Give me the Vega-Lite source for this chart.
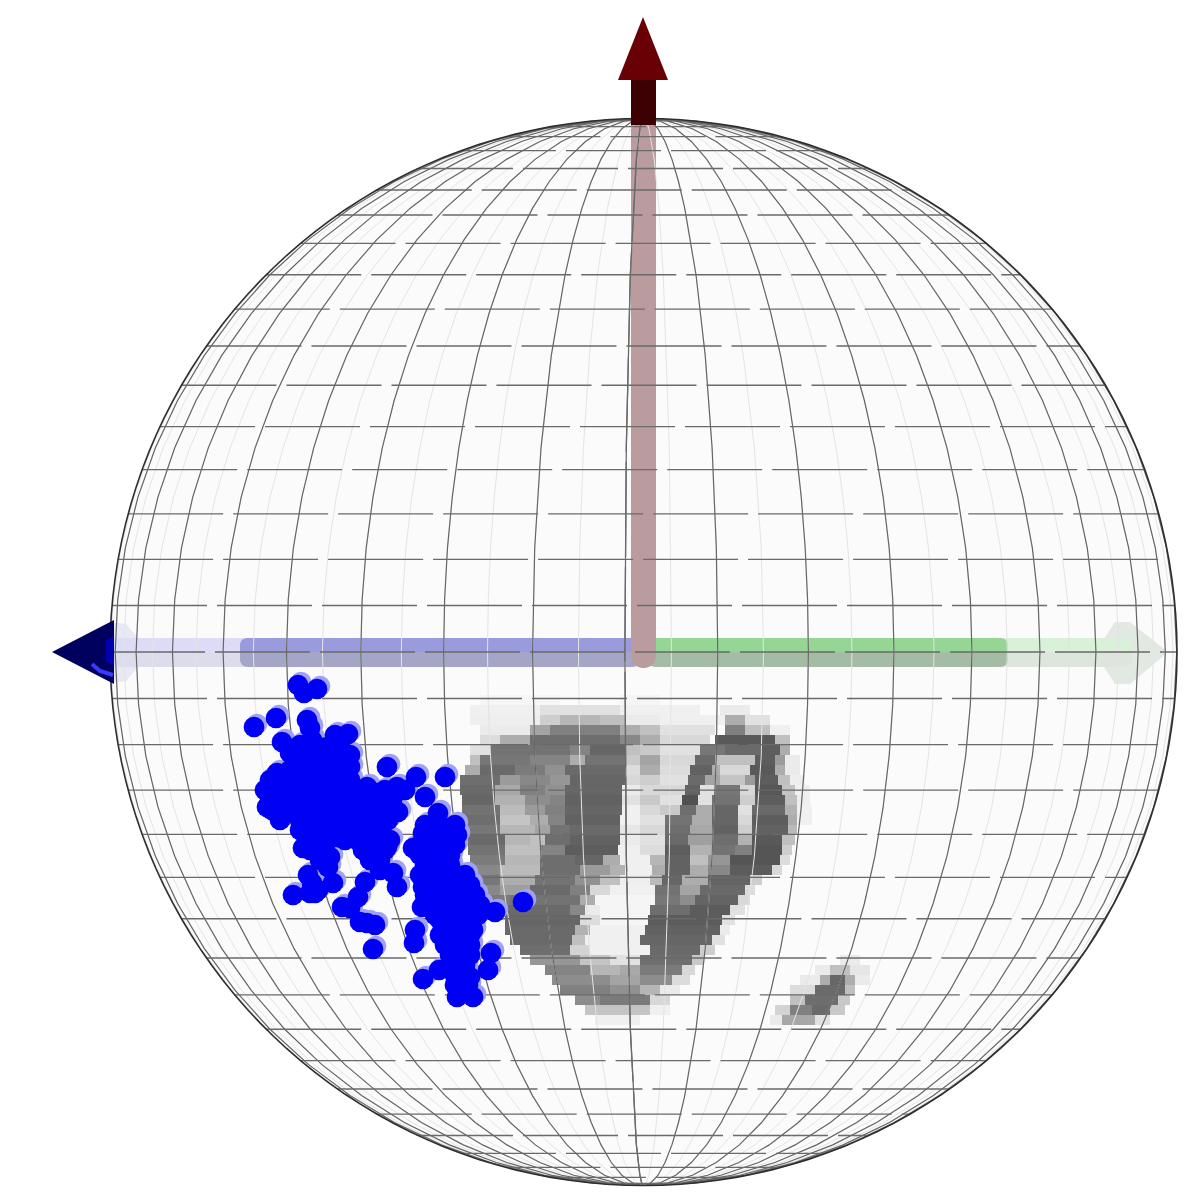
{"$schema":"https://vega.github.io/schema/vega-lite/v6.json","width":1190,"height":1197,"padding":0,"autosize":{"type":"none"},"background":"white","config":{"view":{"stroke":null},"axis":{"disable":true}},
"datasets":{
"pts":[{"x":298,"y":685},{"x":317,"y":689},{"x":304,"y":693},{"x":276,"y":718},{"x":254,"y":727},{"x":307,"y":720},{"x":310,"y":728},{"x":282,"y":742},{"x":290,"y":753},{"x":348,"y":734},{"x":335,"y":735},{"x":312,"y":740},{"x":327,"y":747},{"x":343,"y":757},{"x":350,"y":767},{"x":313,"y":760},{"x":330,"y":767},{"x":302,"y":760},{"x":277,"y":773},{"x":268,"y":793},{"x":267,"y":807},{"x":280,"y":820},{"x":287,"y":783},{"x":283,"y":803},{"x":307,"y":777},{"x":323,"y":787},{"x":340,"y":783},{"x":310,"y":800},{"x":327,"y":803},{"x":343,"y":803},{"x":307,"y":820},{"x":323,"y":820},{"x":343,"y":823},{"x":360,"y":800},{"x":367,"y":787},{"x":377,"y":793},{"x":387,"y":767},{"x":397,"y":787},{"x":383,"y":810},{"x":398,"y":812},{"x":363,"y":823},{"x":383,"y":837},{"x":387,"y":847},{"x":363,"y":850},{"x":357,"y":840},{"x":337,"y":837},{"x":303,"y":848},{"x":320,"y":847},{"x":330,"y":857},{"x":328,"y":867},{"x":333,"y":883},{"x":312,"y":883},{"x":315,"y":893},{"x":293,"y":895},{"x":342,"y":907},{"x":358,"y":897},{"x":365,"y":882},{"x":367,"y":923},{"x":373,"y":949},{"x":380,"y":870},{"x":397,"y":887},{"x":393,"y":873},{"x":416,"y":777},{"x":445,"y":777},{"x":425,"y":797},{"x":438,"y":813},{"x":452,"y":828},{"x":423,"y":833},{"x":437,"y":837},{"x":413,"y":848},{"x":430,"y":850},{"x":447,"y":847},{"x":427,"y":867},{"x":443,"y":863},{"x":423,"y":887},{"x":440,"y":883},{"x":467,"y":887},{"x":422,"y":907},{"x":443,"y":900},{"x":460,"y":900},{"x":472,"y":910},{"x":440,"y":920},{"x":457,"y":923},{"x":473,"y":930},{"x":495,"y":912},{"x":523,"y":902},{"x":415,"y":930},{"x":414,"y":943},{"x":450,"y":947},{"x":463,"y":947},{"x":460,"y":960},{"x":470,"y":977},{"x":439,"y":970},{"x":423,"y":979},{"x":491,"y":953},{"x":488,"y":970},{"x":460,"y":980},{"x":457,"y":997},{"x":473,"y":997},{"x":465,"y":993},
{"x":300,"y":745},{"x":315,"y":745},{"x":340,"y":745},{"x":295,"y":755},{"x":320,"y":755},{"x":335,"y":755},{"x":350,"y":755},{"x":290,"y":770},{"x":300,"y":770},{"x":315,"y":770},{"x":335,"y":770},{"x":345,"y":770},{"x":270,"y":780},{"x":280,"y":780},{"x":295,"y":780},{"x":315,"y":780},{"x":330,"y":780},{"x":350,"y":780},{"x":265,"y":790},{"x":280,"y":790},{"x":295,"y":790},{"x":310,"y":790},{"x":330,"y":790},{"x":345,"y":790},{"x":355,"y":790},{"x":385,"y":790},{"x":405,"y":790},{"x":275,"y":800},{"x":295,"y":800},{"x":320,"y":800},{"x":335,"y":800},{"x":350,"y":800},{"x":370,"y":800},{"x":392,"y":800},{"x":272,"y":810},{"x":295,"y":810},{"x":315,"y":810},{"x":335,"y":810},{"x":350,"y":810},{"x":370,"y":810},{"x":300,"y":820},{"x":330,"y":820},{"x":355,"y":820},{"x":375,"y":820},{"x":388,"y":820},{"x":300,"y":830},{"x":320,"y":830},{"x":335,"y":830},{"x":350,"y":830},{"x":370,"y":830},{"x":380,"y":830},{"x":310,"y":840},{"x":325,"y":840},{"x":345,"y":840},{"x":370,"y":840},{"x":390,"y":840},{"x":310,"y":850},{"x":325,"y":850},{"x":375,"y":850},{"x":385,"y":850},{"x":320,"y":860},{"x":370,"y":860},{"x":380,"y":860},{"x":308,"y":875},{"x":318,"y":890},{"x":310,"y":893},{"x":350,"y":908},{"x":375,"y":925},{"x":360,"y":922},
{"x":425,"y":825},{"x":440,"y":825},{"x":455,"y":825},{"x":430,"y":835},{"x":445,"y":835},{"x":457,"y":835},{"x":420,"y":845},{"x":440,"y":845},{"x":455,"y":845},{"x":420,"y":855},{"x":435,"y":855},{"x":450,"y":855},{"x":425,"y":865},{"x":435,"y":865},{"x":450,"y":865},{"x":420,"y":875},{"x":435,"y":875},{"x":450,"y":875},{"x":465,"y":875},{"x":430,"y":885},{"x":450,"y":885},{"x":470,"y":885},{"x":425,"y":895},{"x":435,"y":895},{"x":450,"y":895},{"x":465,"y":895},{"x":475,"y":895},{"x":430,"y":905},{"x":450,"y":905},{"x":465,"y":905},{"x":480,"y":905},{"x":435,"y":915},{"x":450,"y":915},{"x":465,"y":915},{"x":478,"y":915},{"x":445,"y":925},{"x":465,"y":925},{"x":440,"y":935},{"x":455,"y":935},{"x":470,"y":935},{"x":445,"y":945},{"x":455,"y":945},{"x":470,"y":945},{"x":450,"y":955},{"x":470,"y":955},{"x":450,"y":965},{"x":465,"y":965},{"x":455,"y":975},{"x":455,"y":985},{"x":468,"y":985}],
"upper":[{"x":112,"x2":250,"y":638,"y2":652,"part":"ext blue top"},{"x":1000,"x2":1132,"y":638,"y2":652,"part":"ext green top"},{"x":240,"x2":640,"y":638,"y2":652,"part":"blue top"},{"x":648,"x2":1008,"y":638,"y2":652,"part":"green top"}],
"lower":[{"x":112,"x2":250,"y":652,"y2":667,"part":"ext blue low"},{"x":1000,"x2":1132,"y":652,"y2":667,"part":"ext green low"},{"x":240,"x2":640,"y":652,"y2":667,"part":"blue low"},{"x":648,"x2":1008,"y":652,"y2":667,"part":"green low"}],
"density":[
{"x":480,"x2":560,"y":700,"v":246},{"x":620,"x2":660,"y":700,"v":245},
{"x":470,"x2":540,"y":710,"v":240},{"x":540,"x2":620,"y":710,"v":225},{"x":620,"x2":700,"y":710,"v":240},{"x":720,"x2":750,"y":710,"v":235},
{"x":470,"x2":540,"y":720,"v":238},{"x":540,"x2":560,"y":720,"v":205},{"x":560,"x2":600,"y":720,"v":180},{"x":600,"x2":625,"y":720,"v":190},{"x":625,"x2":660,"y":720,"v":235},{"x":660,"x2":725,"y":720,"v":240},{"x":725,"x2":745,"y":720,"v":170},{"x":745,"x2":770,"y":720,"v":225},
{"x":480,"x2":530,"y":730,"v":235},{"x":530,"x2":550,"y":730,"v":160},{"x":550,"x2":620,"y":730,"v":120},{"x":620,"x2":640,"y":730,"v":170},{"x":640,"x2":660,"y":730,"v":190},{"x":660,"x2":715,"y":730,"v":225},{"x":725,"x2":745,"y":730,"v":120},{"x":745,"x2":770,"y":730,"v":190},{"x":770,"x2":790,"y":730,"v":240},
{"x":480,"x2":500,"y":740,"v":220},{"x":500,"x2":530,"y":740,"v":170},{"x":530,"x2":620,"y":740,"v":100},{"x":620,"x2":640,"y":740,"v":130},{"x":640,"x2":660,"y":740,"v":170},{"x":660,"x2":710,"y":740,"v":215},{"x":715,"x2":775,"y":740,"v":75},{"x":775,"x2":790,"y":740,"v":190},
{"x":470,"x2":490,"y":750,"v":225},{"x":490,"x2":570,"y":750,"v":105},{"x":570,"x2":590,"y":750,"v":125},{"x":590,"x2":625,"y":750,"v":90},{"x":625,"x2":640,"y":750,"v":190},{"x":640,"x2":660,"y":750,"v":200},{"x":660,"x2":700,"y":750,"v":225},{"x":700,"x2":725,"y":750,"v":110},{"x":725,"x2":760,"y":750,"v":95},{"x":760,"x2":780,"y":750,"v":80},{"x":780,"x2":790,"y":750,"v":170},
{"x":470,"x2":480,"y":760,"v":190},{"x":480,"x2":530,"y":760,"v":110},{"x":530,"x2":570,"y":760,"v":125},{"x":570,"x2":585,"y":760,"v":170},{"x":585,"x2":625,"y":760,"v":105},{"x":625,"x2":640,"y":760,"v":200},{"x":640,"x2":660,"y":760,"v":160},{"x":660,"x2":695,"y":760,"v":215},{"x":695,"x2":715,"y":760,"v":95},{"x":715,"x2":755,"y":760,"v":190},{"x":755,"x2":775,"y":760,"v":80},{"x":775,"x2":785,"y":760,"v":150},{"x":785,"x2":800,"y":760,"v":235},
{"x":465,"x2":480,"y":770,"v":170},{"x":480,"x2":515,"y":770,"v":95},{"x":515,"x2":545,"y":770,"v":115},{"x":545,"x2":565,"y":770,"v":140},{"x":565,"x2":625,"y":770,"v":95},{"x":625,"x2":640,"y":770,"v":220},{"x":640,"x2":660,"y":770,"v":170},{"x":660,"x2":690,"y":770,"v":220},{"x":690,"x2":712,"y":770,"v":85},{"x":712,"x2":720,"y":770,"v":170},{"x":720,"x2":750,"y":770,"v":215},{"x":750,"x2":775,"y":770,"v":75},{"x":775,"x2":785,"y":770,"v":170},{"x":785,"x2":800,"y":770,"v":235},
{"x":460,"x2":500,"y":780,"v":100},{"x":500,"x2":520,"y":780,"v":150},{"x":520,"x2":550,"y":780,"v":130},{"x":550,"x2":570,"y":780,"v":145},{"x":570,"x2":625,"y":780,"v":90},{"x":625,"x2":640,"y":780,"v":215},{"x":640,"x2":660,"y":780,"v":205},{"x":660,"x2":688,"y":780,"v":225},{"x":688,"x2":705,"y":780,"v":95},{"x":705,"x2":720,"y":780,"v":160},{"x":720,"x2":745,"y":780,"v":195},{"x":745,"x2":755,"y":780,"v":150},{"x":755,"x2":778,"y":780,"v":80},{"x":778,"x2":790,"y":780,"v":190},{"x":790,"x2":805,"y":780,"v":238},
{"x":460,"x2":495,"y":790,"v":95},{"x":495,"x2":520,"y":790,"v":165},{"x":520,"x2":545,"y":790,"v":120},{"x":545,"x2":565,"y":790,"v":140},{"x":565,"x2":622,"y":790,"v":90},{"x":622,"x2":640,"y":790,"v":235},{"x":640,"x2":660,"y":790,"v":215},{"x":660,"x2":685,"y":790,"v":215},{"x":685,"x2":700,"y":790,"v":85},{"x":700,"x2":715,"y":790,"v":225},{"x":715,"x2":740,"y":790,"v":110},{"x":740,"x2":755,"y":790,"v":215},{"x":755,"x2":782,"y":790,"v":72},{"x":782,"x2":795,"y":790,"v":195},{"x":795,"x2":810,"y":790,"v":240},
{"x":462,"x2":495,"y":800,"v":90},{"x":495,"x2":525,"y":800,"v":175},{"x":525,"x2":550,"y":800,"v":135},{"x":550,"x2":565,"y":800,"v":125},{"x":565,"x2":622,"y":800,"v":85},{"x":622,"x2":640,"y":800,"v":225},{"x":640,"x2":660,"y":800,"v":200},{"x":660,"x2":682,"y":800,"v":225},{"x":682,"x2":698,"y":800,"v":65},{"x":698,"x2":712,"y":800,"v":225},{"x":712,"x2":740,"y":800,"v":105},{"x":740,"x2":755,"y":800,"v":205},{"x":755,"x2":785,"y":800,"v":80},{"x":785,"x2":797,"y":800,"v":190},{"x":797,"x2":810,"y":800,"v":238},
{"x":462,"x2":500,"y":810,"v":105},{"x":500,"x2":525,"y":810,"v":185},{"x":525,"x2":545,"y":810,"v":150},{"x":545,"x2":565,"y":810,"v":120},{"x":565,"x2":622,"y":810,"v":90},{"x":622,"x2":640,"y":810,"v":240},{"x":640,"x2":660,"y":810,"v":215},{"x":660,"x2":680,"y":810,"v":200},{"x":680,"x2":696,"y":810,"v":100},{"x":696,"x2":712,"y":810,"v":170},{"x":712,"x2":738,"y":810,"v":90},{"x":738,"x2":752,"y":810,"v":225},{"x":752,"x2":785,"y":810,"v":95},{"x":785,"x2":797,"y":810,"v":175},{"x":797,"x2":812,"y":810,"v":240},
{"x":465,"x2":500,"y":820,"v":100},{"x":500,"x2":530,"y":820,"v":195},{"x":530,"x2":548,"y":820,"v":170},{"x":548,"x2":565,"y":820,"v":125},{"x":565,"x2":620,"y":820,"v":85},{"x":620,"x2":640,"y":820,"v":240},{"x":640,"x2":665,"y":820,"v":225},{"x":665,"x2":692,"y":820,"v":105},{"x":692,"x2":712,"y":820,"v":170},{"x":712,"x2":738,"y":820,"v":90},{"x":738,"x2":752,"y":820,"v":215},{"x":752,"x2":788,"y":820,"v":80},{"x":788,"x2":797,"y":820,"v":170},{"x":797,"x2":812,"y":820,"v":240},
{"x":465,"x2":500,"y":830,"v":110},{"x":500,"x2":535,"y":830,"v":180},{"x":535,"x2":550,"y":830,"v":160},{"x":550,"x2":570,"y":830,"v":105},{"x":570,"x2":620,"y":830,"v":95},{"x":620,"x2":640,"y":830,"v":230},{"x":640,"x2":665,"y":830,"v":215},{"x":665,"x2":690,"y":830,"v":100},{"x":690,"x2":712,"y":830,"v":165},{"x":712,"x2":738,"y":830,"v":85},{"x":738,"x2":752,"y":830,"v":205},{"x":752,"x2":788,"y":830,"v":85},{"x":788,"x2":797,"y":830,"v":185},
{"x":468,"x2":505,"y":840,"v":95},{"x":505,"x2":530,"y":840,"v":180},{"x":530,"x2":545,"y":840,"v":190},{"x":545,"x2":570,"y":840,"v":100},{"x":570,"x2":620,"y":840,"v":85},{"x":620,"x2":640,"y":840,"v":235},{"x":640,"x2":665,"y":840,"v":225},{"x":665,"x2":688,"y":840,"v":95},{"x":688,"x2":712,"y":840,"v":155},{"x":712,"x2":738,"y":840,"v":100},{"x":738,"x2":752,"y":840,"v":175},{"x":752,"x2":782,"y":840,"v":75},{"x":782,"x2":795,"y":840,"v":190},
{"x":468,"x2":505,"y":850,"v":105},{"x":505,"x2":540,"y":850,"v":190},{"x":540,"x2":565,"y":850,"v":125},{"x":565,"x2":618,"y":850,"v":80},{"x":618,"x2":640,"y":850,"v":240},{"x":640,"x2":665,"y":850,"v":220},{"x":665,"x2":690,"y":850,"v":80},{"x":690,"x2":712,"y":850,"v":175},{"x":712,"x2":735,"y":850,"v":105},{"x":735,"x2":752,"y":850,"v":120},{"x":752,"x2":782,"y":850,"v":70},{"x":782,"x2":792,"y":850,"v":205},
{"x":470,"x2":505,"y":860,"v":115},{"x":505,"x2":540,"y":860,"v":180},{"x":540,"x2":575,"y":860,"v":100},{"x":575,"x2":603,"y":860,"v":90},{"x":603,"x2":620,"y":860,"v":170},{"x":620,"x2":650,"y":860,"v":240},{"x":650,"x2":665,"y":860,"v":180},{"x":665,"x2":690,"y":860,"v":85},{"x":690,"x2":708,"y":860,"v":190},{"x":708,"x2":730,"y":860,"v":145},{"x":730,"x2":780,"y":860,"v":70},{"x":780,"x2":790,"y":860,"v":220},
{"x":475,"x2":500,"y":870,"v":130},{"x":500,"x2":540,"y":870,"v":185},{"x":540,"x2":580,"y":870,"v":100},{"x":580,"x2":610,"y":870,"v":150},{"x":610,"x2":625,"y":870,"v":175},{"x":625,"x2":652,"y":870,"v":240},{"x":652,"x2":665,"y":870,"v":170},{"x":665,"x2":690,"y":870,"v":85},{"x":690,"x2":708,"y":870,"v":170},{"x":708,"x2":730,"y":870,"v":130},{"x":730,"x2":772,"y":870,"v":78},{"x":772,"x2":782,"y":870,"v":215},
{"x":478,"x2":500,"y":880,"v":110},{"x":500,"x2":535,"y":880,"v":170},{"x":535,"x2":575,"y":880,"v":105},{"x":575,"x2":600,"y":880,"v":140},{"x":600,"x2":620,"y":880,"v":190},{"x":620,"x2":650,"y":880,"v":238},{"x":650,"x2":662,"y":880,"v":185},{"x":662,"x2":682,"y":880,"v":90},{"x":682,"x2":708,"y":880,"v":170},{"x":708,"x2":750,"y":880,"v":88},{"x":750,"x2":762,"y":880,"v":205},
{"x":480,"x2":500,"y":890,"v":130},{"x":500,"x2":530,"y":890,"v":155},{"x":530,"x2":570,"y":890,"v":95},{"x":570,"x2":590,"y":890,"v":120},{"x":590,"x2":610,"y":890,"v":215},{"x":610,"x2":655,"y":890,"v":240},{"x":655,"x2":680,"y":890,"v":105},{"x":680,"x2":700,"y":890,"v":160},{"x":700,"x2":745,"y":890,"v":95},{"x":745,"x2":755,"y":890,"v":220},
{"x":490,"x2":510,"y":900,"v":115},{"x":510,"x2":580,"y":900,"v":105},{"x":580,"x2":595,"y":900,"v":170},{"x":595,"x2":655,"y":900,"v":245},{"x":655,"x2":680,"y":900,"v":110},{"x":680,"x2":695,"y":900,"v":135},{"x":695,"x2":738,"y":900,"v":88},{"x":738,"x2":750,"y":900,"v":215},
{"x":500,"x2":570,"y":910,"v":95},{"x":570,"x2":585,"y":910,"v":130},{"x":585,"x2":600,"y":910,"v":235},{"x":600,"x2":650,"y":910,"v":245},{"x":650,"x2":690,"y":910,"v":100},{"x":690,"x2":730,"y":910,"v":78},{"x":730,"x2":745,"y":910,"v":225},
{"x":505,"x2":580,"y":920,"v":90},{"x":580,"x2":600,"y":920,"v":220},{"x":600,"x2":648,"y":920,"v":245},{"x":648,"x2":722,"y":920,"v":78},{"x":722,"x2":735,"y":920,"v":225},
{"x":505,"x2":575,"y":930,"v":95},{"x":575,"x2":590,"y":930,"v":175},{"x":590,"x2":645,"y":930,"v":240},{"x":645,"x2":720,"y":930,"v":85},{"x":720,"x2":730,"y":930,"v":235},
{"x":510,"x2":572,"y":940,"v":95},{"x":572,"x2":585,"y":940,"v":190},{"x":585,"x2":640,"y":940,"v":240},{"x":640,"x2":712,"y":940,"v":90},{"x":712,"x2":725,"y":940,"v":225},
{"x":520,"x2":570,"y":950,"v":100},{"x":570,"x2":590,"y":950,"v":210},{"x":590,"x2":650,"y":950,"v":240},{"x":650,"x2":700,"y":950,"v":95},{"x":700,"x2":715,"y":950,"v":205},
{"x":530,"x2":580,"y":960,"v":145},{"x":580,"x2":610,"y":960,"v":195},{"x":610,"x2":640,"y":960,"v":225},{"x":640,"x2":692,"y":960,"v":100},{"x":692,"x2":704,"y":960,"v":200},{"x":840,"x2":860,"y":960,"v":235},
{"x":545,"x2":590,"y":970,"v":125},{"x":590,"x2":620,"y":970,"v":180},{"x":620,"x2":640,"y":970,"v":165},{"x":640,"x2":682,"y":970,"v":115},{"x":682,"x2":695,"y":970,"v":215},{"x":815,"x2":830,"y":970,"v":235},{"x":830,"x2":850,"y":970,"v":190},{"x":850,"x2":870,"y":970,"v":230},
{"x":552,"x2":610,"y":980,"v":135},{"x":610,"x2":640,"y":980,"v":160},{"x":640,"x2":672,"y":980,"v":135},{"x":672,"x2":690,"y":980,"v":220},{"x":800,"x2":820,"y":980,"v":235},{"x":820,"x2":830,"y":980,"v":170},{"x":830,"x2":845,"y":980,"v":90},{"x":845,"x2":855,"y":980,"v":170},{"x":855,"x2":870,"y":980,"v":235},
{"x":560,"x2":610,"y":990,"v":120},{"x":610,"x2":640,"y":990,"v":140},{"x":640,"x2":660,"y":990,"v":180},{"x":660,"x2":680,"y":990,"v":235},{"x":790,"x2":815,"y":990,"v":220},{"x":815,"x2":845,"y":990,"v":95},{"x":845,"x2":855,"y":990,"v":190},
{"x":575,"x2":600,"y":1000,"v":135},{"x":600,"x2":650,"y":1000,"v":115},{"x":650,"x2":670,"y":1000,"v":215},{"x":790,"x2":805,"y":1000,"v":190},{"x":805,"x2":838,"y":1000,"v":100},{"x":838,"x2":850,"y":1000,"v":200},
{"x":585,"x2":650,"y":1010,"v":195},{"x":650,"x2":670,"y":1010,"v":240},{"x":775,"x2":790,"y":1010,"v":210},{"x":790,"x2":812,"y":1010,"v":120},{"x":812,"x2":830,"y":1010,"v":95},{"x":830,"x2":845,"y":1010,"v":200},
{"x":595,"x2":640,"y":1020,"v":240},{"x":770,"x2":782,"y":1020,"v":235},{"x":782,"x2":815,"y":1020,"v":165},{"x":815,"x2":830,"y":1020,"v":225}
]},
"layer":[
{"data":{"sphere":true},"mark":{"type":"geoshape","fill":"#fbfbfb","stroke":null},"projection":{"type":"orthographic","scale":533.5,"translate":[643.5,652],"rotate":[-2,0,0]},"encoding":{}},
{"data":{"name":"density"},"mark":{"type":"rect","height":10},"encoding":{"x":{"field":"x","type":"quantitative","axis":null,"scale":{"domain":[0,1190],"nice":false,"zero":false}},"x2":{"field":"x2"},"y":{"field":"y","type":"quantitative","axis":null,"scale":{"domain":[1197,0],"nice":false,"zero":false}},"fill":{"field":"v","type":"quantitative","legend":null,"scale":{"domain":[-35,255],"range":["#000000","#ffffff"]}}}},
{"data":{"values":[{"x":112,"y":622,"y2":683},{"x":126,"y":624,"y2":681},{"x":138,"y":638,"y2":667}]},"mark":{"type":"area","color":"#e9e9f6","orient":"vertical"},"encoding":{"x":{"field":"x","type":"quantitative"},"y":{"field":"y","type":"quantitative"},"y2":{"field":"y2"}}},
{"data":{"values":[{"x":1102,"y":642,"y2":664},{"x":1115,"y":622,"y2":684},{"x":1130,"y":622,"y2":684},{"x":1168,"y":652,"y2":652}]},"mark":{"type":"area","color":"#e2e9e2","orient":"vertical"},"encoding":{"x":{"field":"x","type":"quantitative"},"y":{"field":"y","type":"quantitative"},"y2":{"field":"y2"}}},
{"data":{"name":"upper"},"mark":{"type":"rect","cornerRadiusTopLeft":12,"cornerRadiusTopRight":12},"encoding":{"x":{"field":"x","type":"quantitative"},"x2":{"field":"x2"},"y":{"field":"y","type":"quantitative"},"y2":{"field":"y2"},"color":{"field":"part","type":"nominal","legend":null,"scale":{"domain":["ext blue top","ext green top","blue top","green top","ext blue low","ext green low","blue low","green low"],"range":["#dcdcf7","#d8f1d8","#9a9bdc","#95d695","#dcdcec","#dde5dd","#a5a6c7","#a3bca3"]}}}},
{"data":{"name":"lower"},"mark":{"type":"rect","cornerRadiusBottomLeft":12,"cornerRadiusBottomRight":12},"encoding":{"x":{"field":"x","type":"quantitative"},"x2":{"field":"x2"},"y":{"field":"y","type":"quantitative"},"y2":{"field":"y2"},"color":{"field":"part","type":"nominal","legend":null,"scale":{"domain":["ext blue top","ext green top","blue top","green top","ext blue low","ext green low","blue low","green low"],"range":["#dcdcf7","#d8f1d8","#9a9bdc","#95d695","#dcdcec","#dde5dd","#a5a6c7","#a3bca3"]}}}},
{"data":{"values":[{"x":631,"x2":656,"y":125,"y2":668}]},"mark":{"type":"rect","color":"#bb9c9e","cornerRadiusBottomLeft":12,"cornerRadiusBottomRight":12},"encoding":{"x":{"field":"x","type":"quantitative"},"x2":{"field":"x2"},"y":{"field":"y","type":"quantitative"},"y2":{"field":"y2"}}},
{"data":{"graticule":{"stepMinor":[5,90],"stepMajor":[360,360],"extentMinor":[[-180,-90],[180,90]],"extentMajor":[[0,-90],[0.001,90]]}},"mark":{"type":"geoshape","filled":false,"stroke":"#e4e4e4","strokeWidth":1},"projection":{"type":"orthographic","scale":533.5,"translate":[643.5,652],"rotate":[-2,0,0]},"encoding":{}},
{"data":{"graticule":{"stepMinor":[10,90],"stepMajor":[360,360],"extentMinor":[[-180,-90],[180,90]],"extentMajor":[[0,-90],[0.001,90]]}},"mark":{"type":"geoshape","filled":false,"stroke":"#666666","strokeWidth":1.2},"projection":{"type":"orthographic","scale":533.5,"translate":[643.5,652],"rotate":[-2,0,0]},"encoding":{}},
{"data":{"graticule":{"stepMinor":[360,5],"stepMajor":[360,360],"extentMinor":[[-180,-90],[180,90]],"extentMajor":[[-180,-90],[180,90]]}},"mark":{"type":"geoshape","filled":false,"stroke":"#6a6a6a","strokeWidth":1.3,"strokeDash":[95,10]},"projection":{"type":"orthographic","scale":533.5,"translate":[643.5,652],"rotate":[-2,0,0]},"encoding":{}},
{"data":{"sphere":true},"mark":{"type":"geoshape","filled":false,"stroke":"#2e2e2e","strokeWidth":1.6},"projection":{"type":"orthographic","scale":533.5,"translate":[643.5,652],"rotate":[-2,0,0]},"encoding":{}},
{"data":{"values":[{"x":631,"x2":656,"y":80,"y2":125}]},"mark":{"type":"rect","color":"#3d0003"},"encoding":{"x":{"field":"x","type":"quantitative"},"x2":{"field":"x2"},"y":{"field":"y","type":"quantitative"},"y2":{"field":"y2"}}},
{"data":{"values":[{"x":618,"y":80,"y2":80},{"x":643,"y":17,"y2":80},{"x":668,"y":80,"y2":80}]},"mark":{"type":"area","color":"#690006","orient":"vertical"},"encoding":{"x":{"field":"x","type":"quantitative"},"y":{"field":"y","type":"quantitative"},"y2":{"field":"y2"}}},
{"data":{"values":[{"x":52,"y":652,"y2":652},{"x":114,"y":620,"y2":684}]},"mark":{"type":"area","color":"#00005f","orient":"vertical"},"encoding":{"x":{"field":"x","type":"quantitative"},"y":{"field":"y","type":"quantitative"},"y2":{"field":"y2"}}},
{"data":{"values":[{"x":106,"y":640,"y2":662},{"x":114,"y":636,"y2":666}]},"mark":{"type":"area","color":"#0000b0","orient":"vertical"},"encoding":{"x":{"field":"x","type":"quantitative"},"y":{"field":"y","type":"quantitative"},"y2":{"field":"y2"}}},
{"data":{"values":[{"x":92,"y":664},{"x":100,"y":671},{"x":113,"y":675}]},"mark":{"type":"line","color":"#3a3aff","strokeWidth":4},"encoding":{"x":{"field":"x","type":"quantitative"},"y":{"field":"y","type":"quantitative"}}},
{"data":{"name":"pts"},"mark":{"type":"point","filled":true,"shape":"circle","size":430,"color":"#a0a0f5","opacity":1,"xOffset":3,"yOffset":-3},"encoding":{"x":{"field":"x","type":"quantitative"},"y":{"field":"y","type":"quantitative"}}},
{"data":{"name":"pts"},"mark":{"type":"point","filled":true,"shape":"circle","size":430,"color":"#0000f5","opacity":1},"encoding":{"x":{"field":"x","type":"quantitative"},"y":{"field":"y","type":"quantitative"}}}
]}
